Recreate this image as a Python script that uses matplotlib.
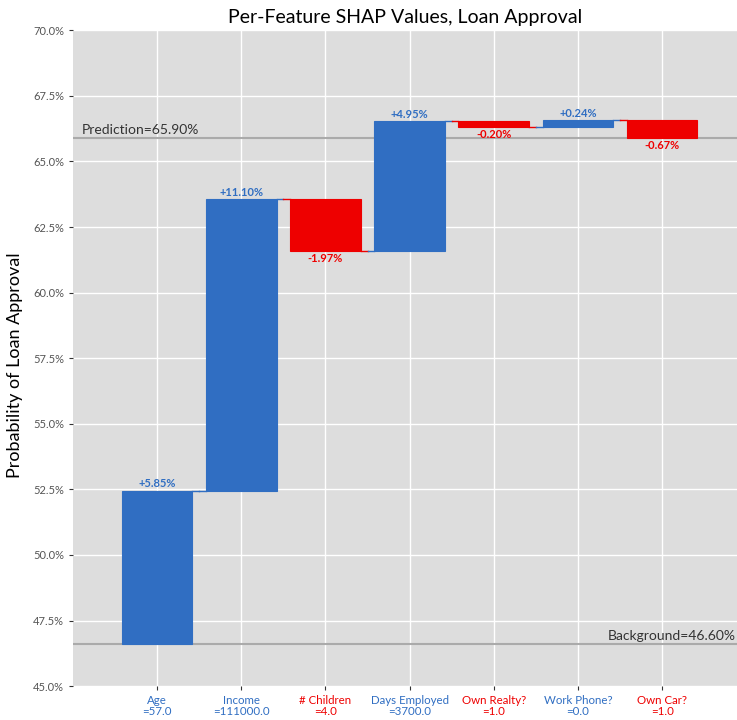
import matplotlib
matplotlib.use("Agg")
import matplotlib.pyplot as plt
import numpy as np

features = ["Age", "Income", "# Children", "Days Employed", "Own Realty?", "Work Phone?", "Own Car?"]
feature_values = ["57.0", "111000.0", "4.0", "3700.0", "1.0", "0.0", "1.0"]
shap_values = [5.85, 11.10, -1.97, 4.95, -0.20, 0.24, -0.67]
background = 46.60
prediction = 65.90

BLUE = "#306ec2"
RED = "#ee0000"

plt.rcParams['font.family'] = ['Lato', 'DejaVu Sans']

fig = plt.figure(figsize=(7.37, 7.2), dpi=100)
ax = fig.add_axes([0.099, 0.047, 0.901, 0.911])
ax.set_facecolor("#dddddd")
for s in ax.spines.values():
    s.set_visible(False)
ax.grid(True, color="white", linewidth=1.0)
ax.set_axisbelow(True)

x = np.arange(len(features))
starts = background + np.concatenate([[0], np.cumsum(shap_values)[:-1]])
ends = starts + np.array(shap_values)
width = 0.84
colors = [BLUE if v > 0 else RED for v in shap_values]

ax.bar(x, np.array(shap_values), bottom=starts, width=width, color=colors,
       edgecolor=colors, linewidth=0.8, zorder=3)

# connectors
for i in range(len(x) - 1):
    mid = (x[i] + x[i + 1]) / 2
    ax.plot([x[i] + width / 2, mid], [ends[i], ends[i]], color=colors[i], lw=1.0, zorder=3)
    ax.plot([mid, x[i + 1] - width / 2], [ends[i], ends[i]], color=colors[i + 1], lw=1.0, zorder=3)

for i, v in enumerate(shap_values):
    if v > 0:
        ax.text(x[i], ends[i] + 0.05, f"+{v:.2f}%", color=BLUE, ha="center", va="bottom",
                fontsize=8, fontweight="bold", zorder=4)
    else:
        ax.text(x[i], ends[i] - 0.08, f"{v:.2f}%", color=RED, ha="center", va="top",
                fontsize=8, fontweight="bold", zorder=4)

ax.axhline(prediction, color="#aaaaaa", lw=1.5, zorder=2)
ax.axhline(background, color="#aaaaaa", lw=1.5, zorder=2)
ax.text(-0.9, prediction + 0.08, f"Prediction={prediction:.2f}%", ha="left", va="bottom",
        fontsize=10, color="#333333")
ax.text(6.88, background + 0.08, f"Background={background:.2f}%", ha="right", va="bottom",
        fontsize=10, color="#333333")

ax.set_xlim(-1, 6.89)
ax.set_ylim(45, 70)
yt = np.arange(45, 70.01, 2.5)
ax.set_yticks(yt)
ax.set_yticklabels([f"{t:.1f}%" for t in yt], fontsize=8, color="#555555")
ax.set_xticks(x)
ax.set_xticklabels([f"{f}\n={val}" for f, val in zip(features, feature_values)], fontsize=8.3,
                   linespacing=1.0)
for lbl, c in zip(ax.get_xticklabels(), colors):
    lbl.set_color(c)
ax.tick_params(axis="both", length=3, color="#333333")

ax.set_ylabel("Probability of Loan Approval", fontsize=13)
ax.yaxis.set_label_coords(-0.075, 0.49)
ax.set_title("Per-Feature SHAP Values, Loan Approval", fontsize=14, pad=5)

fig.savefig("out.png", dpi=100)
